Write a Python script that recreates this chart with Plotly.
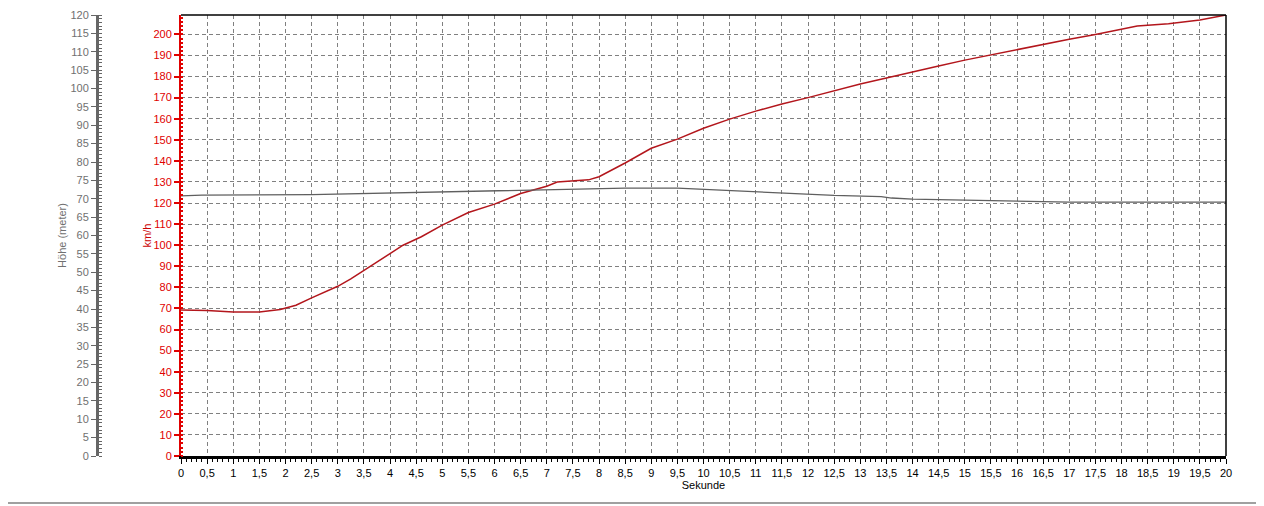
import plotly.graph_objects as go

# Speed (km/h) over time (s)
t_speed = [0, 0.5, 1.0, 1.5, 1.9, 2.2, 2.5, 3.0, 3.25, 3.6, 4.25, 4.6, 5.0, 5.5, 6.0,
           6.5, 7.0, 7.2, 7.5, 7.8, 8.0, 8.5, 9.0, 9.5, 10.0, 10.5, 11.0, 11.5, 12.0,
           12.5, 13.0, 13.5, 14.0, 14.5, 15.0, 15.5, 16.0, 16.5, 17.0, 17.5, 18.0,
           18.3, 18.9, 19.5, 20.0]
speed = [69.3, 69.0, 68.3, 68.3, 69.5, 71.5, 75.0, 80.5, 84.0, 89.5, 100.0, 104.0, 109.5,
         115.5, 119.5, 124.5, 128.0, 130.0, 130.6, 131.0, 132.5, 139.0, 146.0, 150.3,
         155.5, 159.8, 163.6, 167.0, 170.0, 173.3, 176.5, 179.3, 182.3, 185.0, 187.8,
         190.3, 193.0, 195.3, 197.7, 200.0, 202.5, 204.0, 205.0, 206.8, 209.2]

# Height (m) over time (s)
t_height = [0, 0.4, 2.5, 3.9, 5.0, 7.5, 8.5, 9.5, 10.5, 11.5, 12.5, 13.4, 13.6, 14.0,
            15.0, 16.0, 17.0, 20.0]
height = [70.8, 71.0, 71.1, 71.5, 71.8, 72.6, 72.9, 72.9, 72.2, 71.5, 70.9, 70.6, 70.2,
          69.9, 69.6, 69.4, 69.1, 69.1]

FONT = "Liberation Sans"
OFF = 8  # page offset of the figure
W, H = 1264 - OFF, 506 - OFF
plot_l, plot_r, plot_t, plot_b = 181 - OFF, 1226 - OFF, 15 - OFF, 456 - OFF
ML, MR, MT, MB = 0, W - plot_r, plot_t, H - plot_b
paper_w = plot_r
paper_h = plot_b - plot_t
x0 = plot_l / paper_w

GRID = "#808080"
DASH = "4px,3px"

fig = go.Figure()
fig.add_trace(go.Scatter(x=t_height, y=height, yaxis="y2", mode="lines",
                         line=dict(color="#5f5f5f", width=1.3),
                         showlegend=False, hoverinfo="skip"))
fig.add_trace(go.Scatter(x=t_speed, y=speed, yaxis="y", mode="lines",
                         line=dict(color="#b3161c", width=1.5),
                         showlegend=False))

fy = (plot_b - (503 - OFF)) / paper_h
fx = (1262 - OFF) / paper_w

fig.update_layout(
    width=W, height=H,
    margin=dict(l=ML, r=MR, t=MT, b=MB, autoexpand=False),
    paper_bgcolor="white", plot_bgcolor="white",
    separators=",.",
    font=dict(family=FONT, size=11, color="black"),
    xaxis=dict(domain=[x0, 1], range=[0, 20], dtick=0.5, tick0=0,
               showline=True, linecolor="black", linewidth=3,
               ticks="outside", ticklen=5, tickcolor="black", tickwidth=1,
               minor=dict(dtick=0.1, ticks="outside", ticklen=3, tickcolor="black", showgrid=False),
               showgrid=True, gridcolor=GRID, griddash=DASH, gridwidth=1,
               zeroline=False, automargin=False,
               tickfont=dict(size=11, color="black"),
               title=dict(text="Sekunde", font=dict(size=11, color="black"), standoff=4)),
    yaxis=dict(range=[0, 209.2], dtick=10, tick0=0, anchor="x",
               showline=True, linecolor="#e00000", linewidth=2,
               ticks="outside", ticklen=5, tickcolor="#e00000", tickwidth=2,
               minor=dict(dtick=2, ticks="inside", ticklen=2, tickcolor="#e00000", tickwidth=2,
                          showgrid=False),
               showgrid=True, gridcolor=GRID, griddash=DASH, gridwidth=1,
               zeroline=False, automargin=False,
               tickfont=dict(size=11, color="#e00000"),
               title=dict(text="km/h", font=dict(size=11, color="#cc0000"), standoff=0)),
    yaxis2=dict(range=[0, 120], dtick=5, tick0=0, overlaying="y", anchor="free",
                position=(97 - OFF) / paper_w, side="left",
                showline=True, linecolor="#666666", linewidth=3,
                ticks="outside", ticklen=5, tickcolor="#666666", tickwidth=1,
                minor=dict(dtick=1, ticks="inside", ticklen=3, tickcolor="#666666", showgrid=False),
                showgrid=False, zeroline=False, automargin=False,
                tickfont=dict(size=11, color="#707070"),
                title=dict(text="Höhe (meter)", font=dict(size=11, color="#707070"), standoff=0)),
    shapes=[
        dict(type="line", xref="paper", yref="paper", x0=x0, x1=1, y0=1, y1=1,
             line=dict(color="black", width=1.5)),
        dict(type="line", xref="paper", yref="paper", x0=1, x1=1, y0=0, y1=1,
             line=dict(color="black", width=1.5)),
        dict(type="line", xref="paper", yref="paper", x0=-OFF / paper_w, x1=fx,
             y0=fy, y1=fy, line=dict(color="#a0a0a0", width=2)),
        dict(type="line", xref="paper", yref="paper", x0=fx, x1=fx,
             y0=fy, y1=(plot_b + OFF) / paper_h, line=dict(color="#a0a0a0", width=2)),
    ],
)

fig.write_html("out.html")
